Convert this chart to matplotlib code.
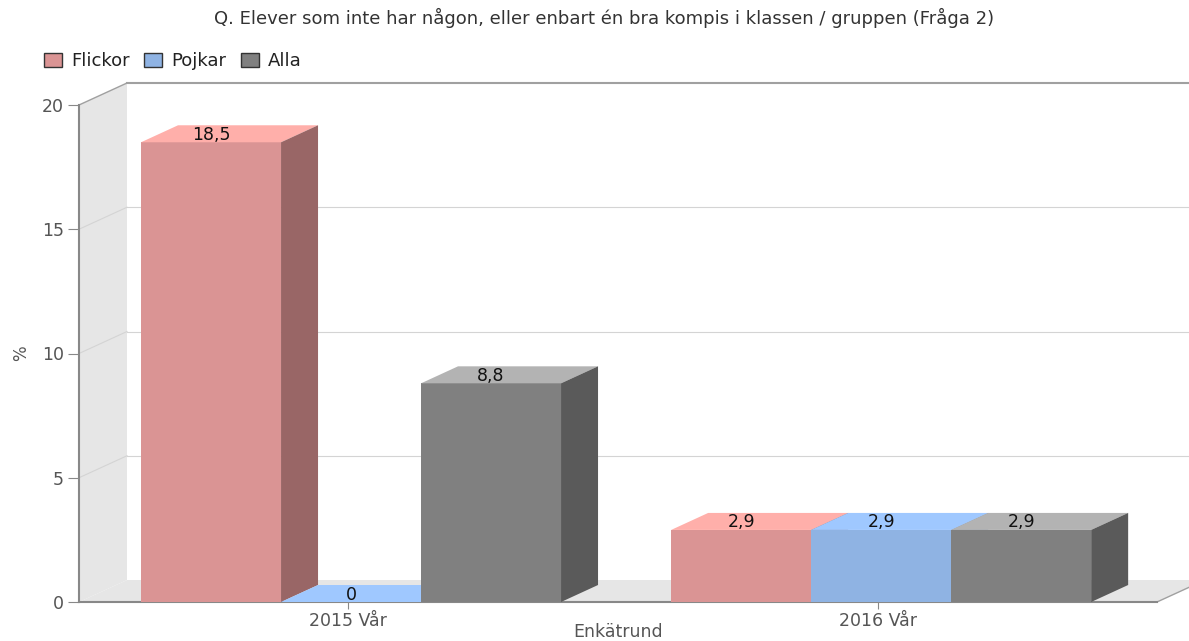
import numpy as np
import matplotlib
matplotlib.use("Agg")
import matplotlib.pyplot as plt
from matplotlib.patches import Polygon, Patch

plt.rcParams['font.family'] = ['DejaVu Sans']

title = "Q. Elever som inte har någon, eller enbart én bra kompis i klassen / gruppen (Fråga 2)"
categories = ["2015 Vår", "2016 Vår"]
series = ["Flickor", "Pojkar", "Alla"]
flickor = [18.5, 2.9]
pojkar = [0.0, 2.9]
alla = [8.8, 2.9]
value_labels = [["18,5", "2,9"], ["0", "2,9"], ["8,8", "2,9"]]
y_ticks = [0, 5, 10, 15, 20]

front_col = ['#DA9494', '#8FB3E3', '#808080']
top_col = ['#FFAFAA', '#9FC8FF', '#B3B3B3']
side_col = ['#996666', '#6F8DB5', '#5A5A5A']

W, H = 1189, 641
fig = plt.figure(figsize=(W / 100, H / 100), dpi=100)
# front plot area in pixels
x0, x1, y0, y1 = 79, 1157, 602, 105
ax = fig.add_axes([x0 / W, (H - y0) / H, (x1 - x0) / W, (y0 - y1) / H])
xmin, xmax = -0.5075, 1.526
ymax = 20
ax.set_xlim(xmin, xmax)
ax.set_ylim(0, ymax)

# pixel -> data helpers for 3d depth
px_x = (xmax - xmin) / (x1 - x0)
px_y = ymax / (y0 - y1)
wdx, wdy = 48 * px_x, 22 * px_y   # wall depth
bdx, bdy = 37 * px_x, 17 * px_y   # bar depth
bw = 140 * px_x
shift = 3 * px_x

wall_grey = '#E6E6E6'
line_grey = '#A0A0A0'

# left wall
ax.add_patch(Polygon([(xmin, 0), (xmin, ymax), (xmin + wdx, ymax + wdy), (xmin + wdx, wdy)],
                     closed=True, fc=wall_grey, ec='none', clip_on=False, zorder=0))
# floor
ax.add_patch(Polygon([(xmin, 0), (xmax, 0), (xmax + wdx, wdy), (xmin + wdx, wdy)],
                     closed=True, fc=wall_grey, ec='none', clip_on=False, zorder=0))
ax.plot([xmax, xmax + wdx], [0, wdy], color=line_grey, lw=1, clip_on=False, zorder=0.5)
# back wall border and grid
ax.plot([xmin + wdx, xmax + wdx], [ymax + wdy, ymax + wdy], color=line_grey, lw=1.5,
        clip_on=False, zorder=0.5)
ax.plot([xmin, xmin + wdx], [ymax, ymax + wdy], color=line_grey, lw=1, clip_on=False, zorder=0.5)
for v in y_ticks[1:-1]:
    ax.plot([xmin + wdx, xmax + wdx], [v + wdy, v + wdy], color='#D4D4D4', lw=0.8,
            clip_on=False, zorder=0.5)
    ax.plot([xmin, xmin + wdx], [v, v + wdy], color='#D4D4D4', lw=0.8,
            clip_on=False, zorder=0.5)

data = [flickor, pojkar, alla]
x = np.arange(len(categories))
z = 2
for ci in range(len(categories)):
    for si in range(len(series)):
        v = data[si][ci]
        left = x[ci] + (si - 1.5) * bw + shift
        ax.bar(left, v, width=bw, align='edge', color=front_col[si], zorder=z, clip_on=False)
        ax.add_patch(Polygon([(left, v), (left + bw, v), (left + bw + bdx, v + bdy), (left + bdx, v + bdy)],
                             closed=True, fc=top_col[si], ec='none', zorder=z, clip_on=False))
        if v > 0:
            ax.add_patch(Polygon([(left + bw, 0), (left + bw, v), (left + bw + bdx, v + bdy), (left + bw + bdx, bdy)],
                                 closed=True, fc=side_col[si], ec='none', zorder=z, clip_on=False))
        ax.text(left + bw / 2, v + 0.3, value_labels[si][ci], ha='center', va='center',
                fontsize=12.5, color='#111111', zorder=z + 0.5)
        z += 1

for s in ['top', 'right']:
    ax.spines[s].set_visible(False)
for s in ['left', 'bottom']:
    ax.spines[s].set_color('#888888')
    ax.spines[s].set_linewidth(1.5)
    ax.spines[s].set_zorder(1)
ax.set_facecolor('none')
ax.set_yticks(y_ticks)
ax.set_xticks(x)
ax.set_xticklabels(categories)
ax.tick_params(axis='y', length=8, color='#888888', labelcolor='#555555', labelsize=12.5, pad=3)
ax.tick_params(axis='x', length=5, color='#888888', labelcolor='#555555', labelsize=12.5, pad=2)

ax.set_ylabel('%', fontsize=12, color='#555555')
ax.yaxis.set_label_coords(-0.054, 0.5)
ax.yaxis.label.set_va('center')
ax.set_xlabel('Enkätrund', fontsize=12.5, color='#555555')
ax.xaxis.set_label_coords(0.5, -0.061)
ax.xaxis.label.set_va('center')

fig.text(604 / W, 1 - 18 / H, title, ha='center', va='center', fontsize=13, color='#333333')

handles = [Patch(fc=front_col[i], ec='#333333', lw=1, label=series[i]) for i in range(3)]
fig.legend(handles=handles, loc='center left', bbox_to_anchor=(28 / W, 1 - 61 / H), ncol=3,
           frameon=False, fontsize=13, handlelength=1.0, handleheight=0.8,
           handletextpad=0.5, columnspacing=0.8, labelcolor='#222222')

fig.savefig('out.png', dpi=100)
